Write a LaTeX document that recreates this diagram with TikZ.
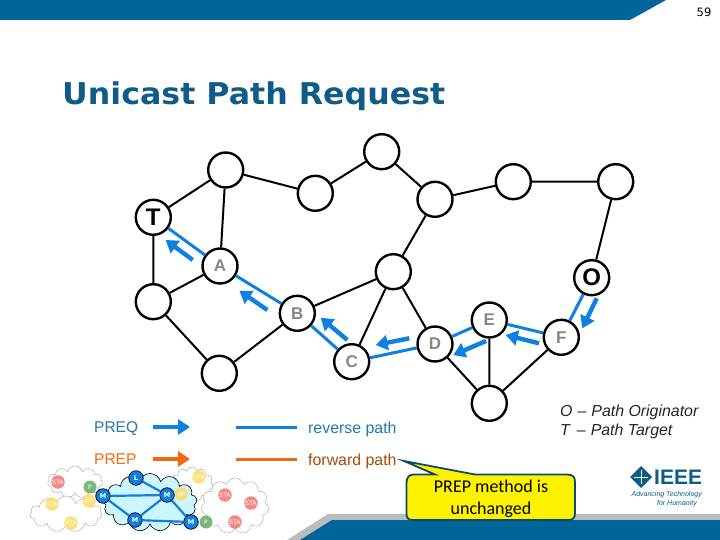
\documentclass[tikz,border=0pt]{standalone}
\usepackage{fontspec}
\setmainfont{Liberation Sans}
\newfontfamily\verd{DejaVu Sans}
\newfontfamily\verdtitle[FakeStretch=1.055]{DejaVu Sans}
\newfontfamily\calib{Carlito}
\usetikzlibrary{arrows.meta,shapes.symbols}
\definecolor{barblue}{HTML}{00669A}
\definecolor{linkblue}{HTML}{1080E0}
\definecolor{titleblue}{HTML}{0F5C88}
\definecolor{revblue}{HTML}{2378AC}
\definecolor{prepor}{HTML}{F06A10}
\definecolor{barg}{HTML}{B9BDBF}
\tikzset{
 x=1pt,y=-1pt,
 mesh/.style={circle,draw=black,line width=2.4pt,fill=white,minimum size=35pt,inner sep=0pt,font=\bfseries\fontsize{17}{17}\selectfont,text=gray!95},
 ends/.style={mesh,text=black,font=\bfseries\fontsize{24}{24}\selectfont},
 lnk/.style={draw=black,line width=2pt},
 blue link/.style={draw=linkblue,line width=3pt},
 flow/.style={draw=linkblue,line width=4.4pt,-{Triangle[length=12pt,width=15pt]}},
 cloudw/.style={cloud,cloud puffs=11,draw=gray!60,fill=white,line width=.5pt,inner sep=0pt},
 tiny/.style={circle,inner sep=0pt,minimum size=13.5pt,font=\verd\fontsize{6}{6}\selectfont,text=white,fill opacity=.85,text opacity=1},
 sta/.style={tiny,fill=red!55!white!90!gray},
 apy/.style={tiny,fill=yellow!60!orange!60!white},
 pgr/.style={tiny,fill=green!45!black!60!white,minimum size=13pt},
 mp/.style={tiny,minimum size=14.5pt,draw=black,line width=.7pt,fill=linkblue,fill opacity=1,font=\verd\bfseries\fontsize{6.5}{6.5}\selectfont},
 mlink/.style={draw=linkblue,line width=2.2pt},
 legend/.style={font=\fontsize{15.5}{15.5}\selectfont,anchor=base west,inner sep=0pt},
 legendsm/.style={font=\fontsize{15.9}{15.9}\selectfont,anchor=base west,inner sep=0pt,text=revblue},
 defn/.style={font=\itshape\fontsize{15.9}{15.9}\selectfont,anchor=base west,inner sep=0pt,text=black!85},
}
\begin{document}
\begin{tikzpicture}
\useasboundingbox (0,0) rectangle (720,540);
\fill[white] (0,0) rectangle (720,540);
% header / footer
\fill[barblue] (0,0) -- (666,0) -- (630,20) -- (0,20) -- cycle;
\fill[barg] (287,540) -- (328,514) -- (720,514) -- (720,540) -- cycle;
\fill[barblue] (300,540) -- (332,520) -- (720,520) -- (720,540) -- cycle;
\node[font=\verd\fontsize{11.5}{11.5}\selectfont,inner sep=0pt] (pg) at (704,12) {59};
\node[font=\verdtitle\bfseries\fontsize{30}{30}\selectfont,text=titleblue,anchor=base west,inner sep=0pt] (title) at (62,105) {Unicast Path Request};
% nodes
\node[ends] (T) at (153.3,217.3) {T};
\node[mesh] (n1) at (225.7,170) {};
\node[mesh] (n2) at (315.3,193.3) {};
\node[mesh] (n3) at (381.7,151.7) {};
\node[mesh] (n4) at (435,199.3) {};
\node[mesh] (n5) at (513.3,181.7) {};
\node[mesh] (n6) at (615.7,181.7) {};
\node[ends] (O) at (591.7,277.7) {O};
\node[mesh] (F) at (561.3,337.3) {F};
\node[mesh] (E) at (489.3,320) {E};
\node[mesh] (D) at (435,344) {D};
\node[mesh] (bot) at (489.3,403.3) {};
\node[mesh] (n7) at (393.3,271.7) {};
\node[mesh] (A) at (220,266) {A};
\node[mesh] (B) at (297.3,313.3) {B};
\node[mesh] (C) at (351.7,361.7) {C};
\node[mesh] (lf) at (153.3,301.7) {};
\node[mesh] (bl) at (219.3,373.3) {};
% links
\draw[lnk] (T)--(n1) (n1)--(A) (n1)--(n2) (n2)--(n3) (n3)--(n4) (n4)--(n5) (n5)--(n6) (n6)--(O)
 (n4)--(n7) (n7)--(B) (n7)--(C) (n7)--(D) (T)--(lf) (lf)--(A) (lf)--(bl) (bl)--(B)
 (D)--(bot) (E)--(bot) (F)--(bot);
\draw[blue link] (T)--(A) (A)--(B) (B)--(C) (C)--(D) (D)--(E) (E)--(F) (F)--(O);
% flow arrows
\coordinate (a1s) at (192.7,260); \coordinate (a1e) at (165.7,240);
\coordinate (a2s) at (267.3,310); \coordinate (a2e) at (239.3,290.7);
\coordinate (a3s) at (347.3,340); \coordinate (a3e) at (320.7,317.7);
\coordinate (a4s) at (409.3,338.3); \coordinate (a4e) at (375.7,345);
\coordinate (a5s) at (486,341); \coordinate (a5e) at (453.3,355);
\coordinate (a6s) at (539,343.3); \coordinate (a6e) at (505.7,335);
\coordinate (a7s) at (596.7,298.3); \coordinate (a7e) at (582.3,328.3);
\draw[flow] (a1s)--(a1e);
\draw[flow] (a2s)--(a2e);
\draw[flow] (a3s)--(a3e);
\draw[flow] (a4s)--(a4e);
\draw[flow] (a5s)--(a5e);
\draw[flow] (a6s)--(a6e);
\draw[flow] (a7s)--(a7e);
% legend
\node[legend,text=revblue] (preq) at (94,432.500) {PREQ};
\node[legend,text=prepor] (prep) at (94,464.500) {PREP};
\coordinate (l1s) at (153,427); \coordinate (l1e) at (190,427);
\coordinate (l2s) at (153,459); \coordinate (l2e) at (190,459);
\draw[flow] (l1s)--(l1e);
\draw[flow,draw=prepor] (l2s)--(l2e);
\coordinate (r1s) at (236,427); \coordinate (r1e) at (297,427);
\coordinate (r2s) at (236,459); \coordinate (r2e) at (297,459);
\draw[blue link] (r1s)--(r1e);
\draw[blue link,draw=prepor] (r2s)--(r2e);
\node[legendsm] (rev) at (308,433) {reverse path};
\node[legendsm,text=prepor!70!black] (fwd) at (308,465) {forward path};
\node[defn] (ol) at (560,416) {O\hspace{5pt}--\hspace{5pt}Path Originator};
\node[defn] (tl) at (560,435) {T\hspace{7pt}--\hspace{5pt}Path Target};
% inset
\node[cloudw,minimum width=55pt,minimum height=32pt] (c1) at (75,482) {};
\node[cloudw,minimum width=72pt,minimum height=36pt] (c2) at (66,514) {};
\node[cloudw,minimum width=42pt,minimum height=34pt] (c3) at (192,484) {};
\node[cloudw,minimum width=68pt,minimum height=56pt] (c4) at (235,506) {};
\node[cloud,cloud puffs=13,draw=black,fill=blue!20!cyan!20!white,line width=.6pt,minimum width=94pt,minimum height=58pt,inner sep=0pt] (c0) at (150,502.500) {};
\node[sta] (s1) at (58,482) {STA};
\node[apy] (s2) at (52,504) {STA};
\node[apy] (s3) at (71,523) {STA};
\node[apy] (ap1) at (89,501) {AP};
\node[pgr] (p1) at (90,487) {P};
\node[apy] (ap2) at (181,494) {AP};
\node[apy] (s4) at (199,477) {STA};
\node[sta] (s5) at (225,495) {STA};
\node[sta] (s6) at (251,503) {STA};
\node[sta] (s7) at (235,522) {STA};
\node[pgr] (p2) at (206,522) {P};
\node[mp] (m1) at (103,496) {M};
\node[mp] (L) at (136,478) {L};
\node[mp] (m2) at (167,495) {M};
\node[mp] (m3) at (135,520) {M};
\node[mp] (m4) at (191,522) {M};
\draw[mlink] (m1)--(m2) (m1)--(m3) (L)--(m2) (m2)--(m3) (m2)--(m4) (m3)--(m4);
% callout
\path[draw=titleblue!80!black,line width=1.8pt,fill=yellow] (406.500,484)
 .. controls (406.500,477) and (409,474.500) .. (414,474.500) -- (435,474.500) -- (404,461) -- (475,474.500)
 -- (567,474.500) .. controls (573,474.500) and (575,477) .. (575,482) -- (575,513)
 .. controls (575,518) and (573,520) .. (568,520) -- (413,520) .. controls (408,520) and (406.500,518) .. (406.500,513) -- cycle;
\node[font=\calib\fontsize{18}{21.5}\selectfont,align=center,inner sep=0pt,text=black] (cal) at (491,499) {PREP method is\\unchanged};
% logo
\fill[titleblue] (630,477) -- (641,466) -- (652,477) -- (641,488) -- cycle;
\draw[white,line width=.6pt] (641,470) -- (641,484) (634,477) -- (648,477);
\node[font=\bfseries\fontsize{21}{21}\selectfont,text=titleblue,inner sep=0pt,anchor=west] (ieee) at (654,477) {IEEE};
\node[font=\itshape\fontsize{7}{8}\selectfont,text=titleblue,inner sep=0pt,anchor=east] (adv1) at (702,495) {Advancing Technology};
\node[font=\itshape\fontsize{7}{8}\selectfont,text=titleblue,inner sep=0pt,anchor=east] (adv2) at (697,504) {for Humanity};
\end{tikzpicture}
\end{document}
